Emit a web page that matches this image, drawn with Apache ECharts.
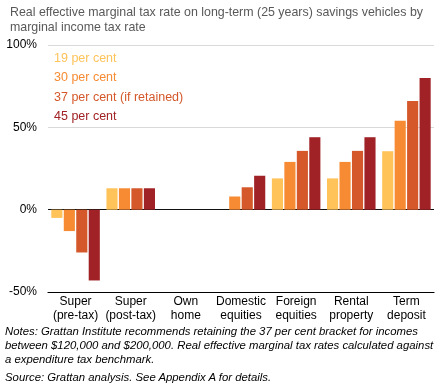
<!DOCTYPE html>
<html><head><meta charset="utf-8">
<script src="https://cdn.jsdelivr.net/npm/echarts@6/dist/echarts.min.js"></script>
<style>html,body{margin:0;padding:0;background:#fff}#c{width:442px;height:389px}</style>
</head><body><div id="c"></div>
<script>
const categories = ['Super\n(pre-tax)', 'Super\n(post-tax)', 'Own\nhome', 'Domestic\nequities', 'Foreign\nequities', 'Rental\nproperty', 'Term\ndeposit'];
const seriesNames = ['19 per cent', '30 per cent', '37 per cent (if retained)', '45 per cent'];
const rate19 = [-5, 13, 0, 0, 19, 19, 35.5];
const rate30 = [-13, 13, 0, 8, 29, 29, 54];
const rate37 = [-26, 13, 0, 13.6, 35.7, 35.7, 66];
const rate45 = [-43, 13, 0, 20.6, 44, 44, 80];
const yTicks = [-50, 0, 50, 100];
const colors = ['#FFC35A', '#F68B33', '#D4582A', '#A02226'];
const font = '"Liberation Sans", Arial, sans-serif';
const values = [rate19, rate30, rate37, rate45];

const chart = echarts.init(document.getElementById('c'), null, {renderer: 'canvas'});
chart.setOption({
  animation: false,
  textStyle: {fontFamily: font},
  title: {
    text: 'Real effective marginal tax rate on long-term (25 years) savings vehicles by\nmarginal income tax rate',
    left: 5, top: 0,
    textStyle: {fontFamily: font, fontSize: 12.4, fontWeight: 'normal', color: '#595959', lineHeight: 15}
  },
  legend: {
    orient: 'vertical', left: 46, top: 47, itemGap: 6.3, itemWidth: 0, itemHeight: 0,
    icon: 'rect', selectedMode: false,
    data: seriesNames.map((n, i) => ({name: n, textStyle: {color: colors[i]}})),
    textStyle: {fontFamily: font, fontSize: 12.5, padding: [0, 0, 0, -2]}
  },
  grid: {left: 48, right: 8, top: 45, bottom: 97},
  xAxis: {
    type: 'category', data: categories,
    axisLine: {onZero: false, lineStyle: {color: '#000', width: 1.2}},
    axisTick: {alignWithLabel: true, length: 3, lineStyle: {color: '#000'}},
    axisLabel: {fontFamily: font, fontSize: 12, color: '#000', lineHeight: 14, margin: 3, interval: 0}
  },
  yAxis: {
    type: 'value', min: -50, max: 100, interval: 50,
    axisLabel: {formatter: v => yTicks.includes(v) ? v + '%' : '', fontFamily: font, fontSize: 12, color: '#000', margin: 11},
    axisLine: {show: false}, axisTick: {show: false},
    splitLine: {lineStyle: {color: ['#000', '#111', '#d9d9d9', '#d9d9d9'], width: 1.2}}
  },
  series: seriesNames.map((n, i) => ({
    name: n, type: 'bar', data: values[i],
    barGap: '12%', barCategoryGap: '12%',
    itemStyle: {color: colors[i]}
  }))
});
</script>
<div style="position:absolute;left:5px;top:324px;font-family:'Liberation Sans',Arial,sans-serif;font-style:italic;font-size:11.35px;line-height:14.2px;color:#000;width:440px;white-space:nowrap">Notes: Grattan Institute recommends retaining the 37 per cent bracket for incomes<br>between $120,000 and $200,000. Real effective marginal tax rates calculated against<br>a expenditure tax benchmark.</div>
<div style="position:absolute;left:5px;top:370px;font-family:'Liberation Sans',Arial,sans-serif;font-style:italic;font-size:11.35px;line-height:14.2px;color:#000;white-space:nowrap">Source: Grattan analysis. See Appendix A for details.</div>
</body></html>
